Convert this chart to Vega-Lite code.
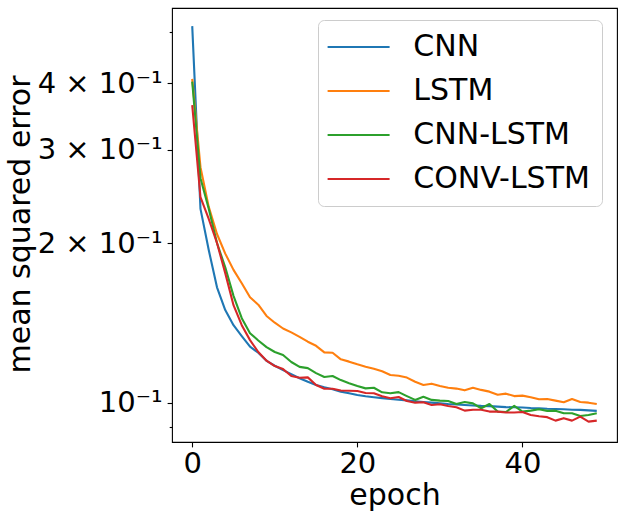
{
  "$schema": "https://vega.github.io/schema/vega-lite/v6.json",
  "width": 445,
  "height": 434,
  "autosize": {"type": "none"},
  "padding": {"left": 172, "top": 8, "right": 7, "bottom": 76},
  "background": "white",
  "config": {
    "font": "DejaVu Sans",
    "view": {"stroke": "black", "strokeWidth": 1.1},
    "axis": {"grid": false, "domain": false, "tickColor": "black", "tickWidth": 1.1, "labelColor": "black", "titleColor": "black", "labelFont": "DejaVu Sans", "titleFont": "DejaVu Sans", "titleFontWeight": "normal", "labelFontSize": 29, "titleFontSize": 30}
  },
  "data": {"values": [
    {"epoch":0,"model":"CNN","mse":0.513},{"epoch":1,"model":"CNN","mse":0.232},{"epoch":2,"model":"CNN","mse":0.194},{"epoch":3,"model":"CNN","mse":0.165},{"epoch":4,"model":"CNN","mse":0.1495},{"epoch":5,"model":"CNN","mse":0.140},{"epoch":6,"model":"CNN","mse":0.1335},{"epoch":7,"model":"CNN","mse":0.1275},{"epoch":8,"model":"CNN","mse":0.1242},{"epoch":9,"model":"CNN","mse":0.1199},
    {"epoch":10,"model":"CNN","mse":0.1174},{"epoch":11,"model":"CNN","mse":0.1152},{"epoch":12,"model":"CNN","mse":0.1132},{"epoch":13,"model":"CNN","mse":0.1112},{"epoch":14,"model":"CNN","mse":0.1095},{"epoch":15,"model":"CNN","mse":0.108},{"epoch":16,"model":"CNN","mse":0.1069},{"epoch":17,"model":"CNN","mse":0.106},{"epoch":18,"model":"CNN","mse":0.1049},{"epoch":19,"model":"CNN","mse":0.1042},
    {"epoch":20,"model":"CNN","mse":0.1034},{"epoch":21,"model":"CNN","mse":0.1028},{"epoch":22,"model":"CNN","mse":0.1024},{"epoch":23,"model":"CNN","mse":0.102},{"epoch":24,"model":"CNN","mse":0.1016},{"epoch":25,"model":"CNN","mse":0.1013},{"epoch":26,"model":"CNN","mse":0.101},{"epoch":27,"model":"CNN","mse":0.1006},{"epoch":28,"model":"CNN","mse":0.1003},{"epoch":29,"model":"CNN","mse":0.1},
    {"epoch":30,"model":"CNN","mse":0.0997},{"epoch":31,"model":"CNN","mse":0.0994},{"epoch":32,"model":"CNN","mse":0.0992},{"epoch":33,"model":"CNN","mse":0.099},{"epoch":34,"model":"CNN","mse":0.0988},{"epoch":35,"model":"CNN","mse":0.0986},{"epoch":36,"model":"CNN","mse":0.0985},{"epoch":37,"model":"CNN","mse":0.0983},{"epoch":38,"model":"CNN","mse":0.0981},{"epoch":39,"model":"CNN","mse":0.098},
    {"epoch":40,"model":"CNN","mse":0.0979},{"epoch":41,"model":"CNN","mse":0.0977},{"epoch":42,"model":"CNN","mse":0.0976},{"epoch":43,"model":"CNN","mse":0.0974},{"epoch":44,"model":"CNN","mse":0.0973},{"epoch":45,"model":"CNN","mse":0.0972},{"epoch":46,"model":"CNN","mse":0.097},{"epoch":47,"model":"CNN","mse":0.0969},{"epoch":48,"model":"CNN","mse":0.0967},{"epoch":49,"model":"CNN","mse":0.0965},
    {"epoch":0,"model":"LSTM","mse":0.408},{"epoch":1,"model":"LSTM","mse":0.278},{"epoch":2,"model":"LSTM","mse":0.234},{"epoch":3,"model":"LSTM","mse":0.208},{"epoch":4,"model":"LSTM","mse":0.191},{"epoch":5,"model":"LSTM","mse":0.178},{"epoch":6,"model":"LSTM","mse":0.168},{"epoch":7,"model":"LSTM","mse":0.158},{"epoch":8,"model":"LSTM","mse":0.153},{"epoch":9,"model":"LSTM","mse":0.1457},
    {"epoch":10,"model":"LSTM","mse":0.1415},{"epoch":11,"model":"LSTM","mse":0.138},{"epoch":12,"model":"LSTM","mse":0.1357},{"epoch":13,"model":"LSTM","mse":0.1331},{"epoch":14,"model":"LSTM","mse":0.1303},{"epoch":15,"model":"LSTM","mse":0.128},{"epoch":16,"model":"LSTM","mse":0.1244},{"epoch":17,"model":"LSTM","mse":0.1242},{"epoch":18,"model":"LSTM","mse":0.1207},{"epoch":19,"model":"LSTM","mse":0.1195},
    {"epoch":20,"model":"LSTM","mse":0.1181},{"epoch":21,"model":"LSTM","mse":0.1169},{"epoch":22,"model":"LSTM","mse":0.1159},{"epoch":23,"model":"LSTM","mse":0.1146},{"epoch":24,"model":"LSTM","mse":0.1128},{"epoch":25,"model":"LSTM","mse":0.1124},{"epoch":26,"model":"LSTM","mse":0.1115},{"epoch":27,"model":"LSTM","mse":0.1095},{"epoch":28,"model":"LSTM","mse":0.108},{"epoch":29,"model":"LSTM","mse":0.1086},
    {"epoch":30,"model":"LSTM","mse":0.1075},{"epoch":31,"model":"LSTM","mse":0.1067},{"epoch":32,"model":"LSTM","mse":0.1063},{"epoch":33,"model":"LSTM","mse":0.1055},{"epoch":34,"model":"LSTM","mse":0.1067},{"epoch":35,"model":"LSTM","mse":0.1057},{"epoch":36,"model":"LSTM","mse":0.1049},{"epoch":37,"model":"LSTM","mse":0.1035},{"epoch":38,"model":"LSTM","mse":0.104},{"epoch":39,"model":"LSTM","mse":0.1029},
    {"epoch":40,"model":"LSTM","mse":0.1031},{"epoch":41,"model":"LSTM","mse":0.1024},{"epoch":42,"model":"LSTM","mse":0.1015},{"epoch":43,"model":"LSTM","mse":0.1016},{"epoch":44,"model":"LSTM","mse":0.1009},{"epoch":45,"model":"LSTM","mse":0.1002},{"epoch":46,"model":"LSTM","mse":0.1016},{"epoch":47,"model":"LSTM","mse":0.1003},{"epoch":48,"model":"LSTM","mse":0.1},{"epoch":49,"model":"LSTM","mse":0.0994},
    {"epoch":0,"model":"CNN-LSTM","mse":0.403},{"epoch":1,"model":"CNN-LSTM","mse":0.265},{"epoch":2,"model":"CNN-LSTM","mse":0.232},{"epoch":3,"model":"CNN-LSTM","mse":0.2},{"epoch":4,"model":"CNN-LSTM","mse":0.18},{"epoch":5,"model":"CNN-LSTM","mse":0.159},{"epoch":6,"model":"CNN-LSTM","mse":0.1443},{"epoch":7,"model":"CNN-LSTM","mse":0.1352},{"epoch":8,"model":"CNN-LSTM","mse":0.131},{"epoch":9,"model":"CNN-LSTM","mse":0.1273},
    {"epoch":10,"model":"CNN-LSTM","mse":0.1246},{"epoch":11,"model":"CNN-LSTM","mse":0.123},{"epoch":12,"model":"CNN-LSTM","mse":0.1193},{"epoch":13,"model":"CNN-LSTM","mse":0.1168},{"epoch":14,"model":"CNN-LSTM","mse":0.1162},{"epoch":15,"model":"CNN-LSTM","mse":0.1137},{"epoch":16,"model":"CNN-LSTM","mse":0.1118},{"epoch":17,"model":"CNN-LSTM","mse":0.1123},{"epoch":18,"model":"CNN-LSTM","mse":0.1103},{"epoch":19,"model":"CNN-LSTM","mse":0.1088},
    {"epoch":20,"model":"CNN-LSTM","mse":0.1075},{"epoch":21,"model":"CNN-LSTM","mse":0.1064},{"epoch":22,"model":"CNN-LSTM","mse":0.1067},{"epoch":23,"model":"CNN-LSTM","mse":0.1046},{"epoch":24,"model":"CNN-LSTM","mse":0.1042},{"epoch":25,"model":"CNN-LSTM","mse":0.1047},{"epoch":26,"model":"CNN-LSTM","mse":0.1029},{"epoch":27,"model":"CNN-LSTM","mse":0.1012},{"epoch":28,"model":"CNN-LSTM","mse":0.1026},{"epoch":29,"model":"CNN-LSTM","mse":0.1012},
    {"epoch":30,"model":"CNN-LSTM","mse":0.1009},{"epoch":31,"model":"CNN-LSTM","mse":0.1007},{"epoch":32,"model":"CNN-LSTM","mse":0.0994},{"epoch":33,"model":"CNN-LSTM","mse":0.1003},{"epoch":34,"model":"CNN-LSTM","mse":0.0997},{"epoch":35,"model":"CNN-LSTM","mse":0.0976},{"epoch":36,"model":"CNN-LSTM","mse":0.0994},{"epoch":37,"model":"CNN-LSTM","mse":0.0962},{"epoch":38,"model":"CNN-LSTM","mse":0.096},{"epoch":39,"model":"CNN-LSTM","mse":0.0986},
    {"epoch":40,"model":"CNN-LSTM","mse":0.0962},{"epoch":41,"model":"CNN-LSTM","mse":0.0966},{"epoch":42,"model":"CNN-LSTM","mse":0.0972},{"epoch":43,"model":"CNN-LSTM","mse":0.0965},{"epoch":44,"model":"CNN-LSTM","mse":0.0966},{"epoch":45,"model":"CNN-LSTM","mse":0.0955},{"epoch":46,"model":"CNN-LSTM","mse":0.0955},{"epoch":47,"model":"CNN-LSTM","mse":0.0944},{"epoch":48,"model":"CNN-LSTM","mse":0.0948},{"epoch":49,"model":"CNN-LSTM","mse":0.0955},
    {"epoch":0,"model":"CONV-LSTM","mse":0.364},{"epoch":1,"model":"CONV-LSTM","mse":0.244},{"epoch":2,"model":"CONV-LSTM","mse":0.222},{"epoch":3,"model":"CONV-LSTM","mse":0.2},{"epoch":4,"model":"CONV-LSTM","mse":0.1755},{"epoch":5,"model":"CONV-LSTM","mse":0.1527},{"epoch":6,"model":"CONV-LSTM","mse":0.14},{"epoch":7,"model":"CONV-LSTM","mse":0.1312},{"epoch":8,"model":"CONV-LSTM","mse":0.1246},{"epoch":9,"model":"CONV-LSTM","mse":0.12},
    {"epoch":10,"model":"CONV-LSTM","mse":0.1172},{"epoch":11,"model":"CONV-LSTM","mse":0.1157},{"epoch":12,"model":"CONV-LSTM","mse":0.1123},{"epoch":13,"model":"CONV-LSTM","mse":0.1114},{"epoch":14,"model":"CONV-LSTM","mse":0.1116},{"epoch":15,"model":"CONV-LSTM","mse":0.108},{"epoch":16,"model":"CONV-LSTM","mse":0.1062},{"epoch":17,"model":"CONV-LSTM","mse":0.1062},{"epoch":18,"model":"CONV-LSTM","mse":0.1054},{"epoch":19,"model":"CONV-LSTM","mse":0.1053},
    {"epoch":20,"model":"CONV-LSTM","mse":0.1052},{"epoch":21,"model":"CONV-LSTM","mse":0.1043},{"epoch":22,"model":"CONV-LSTM","mse":0.1042},{"epoch":23,"model":"CONV-LSTM","mse":0.1028},{"epoch":24,"model":"CONV-LSTM","mse":0.1019},{"epoch":25,"model":"CONV-LSTM","mse":0.1025},{"epoch":26,"model":"CONV-LSTM","mse":0.1007},{"epoch":27,"model":"CONV-LSTM","mse":0.1},{"epoch":28,"model":"CONV-LSTM","mse":0.1002},{"epoch":29,"model":"CONV-LSTM","mse":0.099},
    {"epoch":30,"model":"CONV-LSTM","mse":0.0993},{"epoch":31,"model":"CONV-LSTM","mse":0.0986},{"epoch":32,"model":"CONV-LSTM","mse":0.098},{"epoch":33,"model":"CONV-LSTM","mse":0.0966},{"epoch":34,"model":"CONV-LSTM","mse":0.097},{"epoch":35,"model":"CONV-LSTM","mse":0.097},{"epoch":36,"model":"CONV-LSTM","mse":0.0962},{"epoch":37,"model":"CONV-LSTM","mse":0.0962},{"epoch":38,"model":"CONV-LSTM","mse":0.0958},{"epoch":39,"model":"CONV-LSTM","mse":0.0958},
    {"epoch":40,"model":"CONV-LSTM","mse":0.096},{"epoch":41,"model":"CONV-LSTM","mse":0.0948},{"epoch":42,"model":"CONV-LSTM","mse":0.0943},{"epoch":43,"model":"CONV-LSTM","mse":0.0939},{"epoch":44,"model":"CONV-LSTM","mse":0.0925},{"epoch":45,"model":"CONV-LSTM","mse":0.0935},{"epoch":46,"model":"CONV-LSTM","mse":0.0925},{"epoch":47,"model":"CONV-LSTM","mse":0.0941},{"epoch":48,"model":"CONV-LSTM","mse":0.0921},{"epoch":49,"model":"CONV-LSTM","mse":0.0925}
  ]},
  "mark": {"type": "line", "strokeWidth": 2.1, "strokeJoin": "round"},
  "encoding": {
    "x": {
      "field": "epoch", "type": "quantitative",
      "scale": {"domain": [-2.45, 51.45], "nice": false, "zero": false},
      "axis": {"values": [0, 20, 40], "tickSize": 4.9, "labelPadding": 3, "labelFlush": false, "title": "epoch", "titleBaseline": "alphabetic", "titleY": 62, "titleX": 222.5}
    },
    "y": {
      "field": "mse", "type": "quantitative",
      "scale": {"type": "log", "domain": [0.0843, 0.5549], "nice": false},
      "axis": {
        "values": [0.09, 0.1, 0.2, 0.3, 0.4, 0.5],
        "tickSize": {"condition": {"test": "round(datum.value*100) == 9 || round(datum.value*100) == 50", "value": 2.8}, "value": 4.9},
        "labelPadding": 4.9,
        "labelFlush": false,
        "labelBaseline": "middle",
        "labelExpr": "round(datum.value*100) == 10 ? '10⁻¹' : round(datum.value*100) == 20 ? '2 × 10⁻¹' : round(datum.value*100) == 30 ? '3 × 10⁻¹' : round(datum.value*100) == 40 ? '4 × 10⁻¹' : ''",
        "title": "mean squared error",
        "titleAngle": -90, "titleBaseline": "alphabetic", "titleAlign": "center",
        "titleX": -142.5, "titleY": 216
      }
    },
    "color": {
      "field": "model", "type": "nominal",
      "scale": {"domain": ["CNN", "LSTM", "CNN-LSTM", "CONV-LSTM"], "range": ["#1f77b4", "#ff7f0e", "#2ca02c", "#d62728"]},
      "legend": {
        "title": null, "orient": "none", "legendX": 146, "legendY": 12,
        "symbolType": "M-3,0H3", "symbolSize": 427, "symbolStrokeWidth": 2.1, "symbolOffset": 13.6,
        "labelFontSize": 30, "labelFont": "DejaVu Sans", "labelColor": "black", "labelOffset": 39.7, "labelLimit": 0,
        "rowPadding": 14, "padding": 12,
        "fillColor": "rgba(255,255,255,0.8)", "strokeColor": "#cccccc", "cornerRadius": 6
      }
    }
  }
}
